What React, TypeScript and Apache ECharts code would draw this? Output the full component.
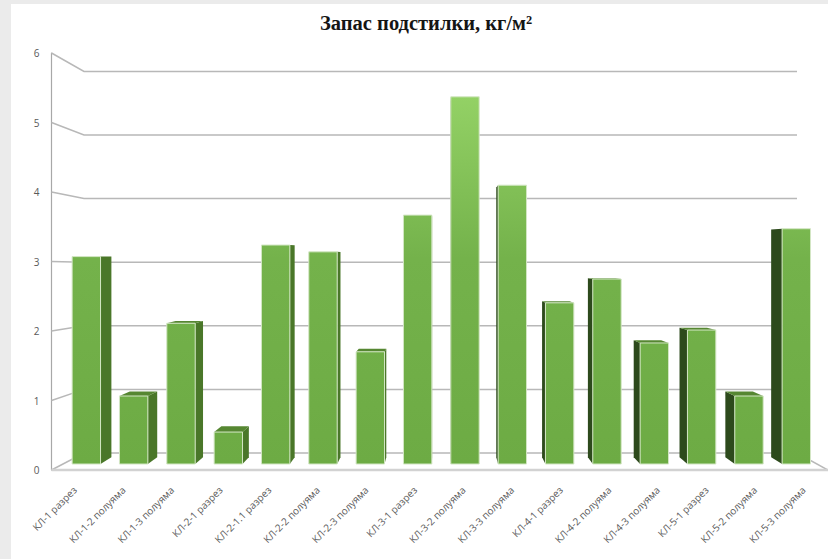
import React, { useEffect, useRef } from "react";
import * as echarts from "echarts";

const titleText = "Запас подстилки, кг/м²";
const categories = [
  "КЛ-1 разрез", "КЛ-1-2 полуяма", "КЛ-1-3 полуяма", "КЛ-2-1 разрез",
  "КЛ-2-1.1 разрез", "КЛ-2-2 полуяма", "КЛ-2-3 полуяма", "КЛ-3-1 разрез",
  "КЛ-3-2 полуяма", "КЛ-3-3 полуяма", "КЛ-4-1 разрез", "КЛ-4-2 полуяма",
  "КЛ-4-3 полуяма", "КЛ-5-1 разрез", "КЛ-5-2 полуяма", "КЛ-5-3 полуяма",
];
const stock = [3.05, 1.0, 2.07, 0.47, 3.22, 3.12, 1.65, 3.66, 5.4, 4.1, 2.37, 2.72, 1.78, 1.97, 1.0, 3.46];
const gridTicks = [0, 1, 2, 3, 4, 5, 6];

// Pseudo-3D box geometry
const VANISH = [440, 255];
const DEPTH = 0.032;
const BACK_LEFT = 84;
const BACK_RIGHT = 797;
const FRONT_RIGHT = 828;
const BACK_FLOOR = 453;
const BACK_RATIO = 63.6 / 69.5;
const BAR_RATIO = 68 / 69.5;
const BAR_LIFT = 6;

const recede = (p: number[]) => [
  p[0] + (VANISH[0] - p[0]) * DEPTH,
  p[1] + (VANISH[1] - p[1]) * DEPTH,
];

const faceFill = new echarts.graphic.LinearGradient(
  0, 97, 0, 464,
  [
    { offset: 0, color: "#93d165" },
    { offset: 0.44, color: "#74b24b" },
    { offset: 1, color: "#6dab44" },
  ],
  true
);

const renderWall = (params: any, api: any) => {
  const tick = api.value(1);
  const frontY = api.coord([0, tick])[1];
  const zeroY = api.coord([0, 0])[1];
  const backY = BACK_FLOOR - (zeroY - frontY) * BACK_RATIO;
  const lineStyle = { stroke: "#b8b8b8", lineWidth: 1.5, fill: "none" };
  const children: any[] = [
    {
      type: "polyline",
      shape: { points: [[51.5, frontY], [BACK_LEFT, backY], [BACK_RIGHT, backY]] },
      style: lineStyle,
    },
  ];
  if (tick === 0) {
    children.push(
      {
        type: "line",
        shape: { x1: BACK_RIGHT, y1: backY, x2: FRONT_RIGHT, y2: frontY },
        style: lineStyle,
      },
      {
        type: "line",
        shape: { x1: 51.5, y1: frontY, x2: FRONT_RIGHT, y2: frontY },
        style: { stroke: "#d2d2d2", lineWidth: 2.4 },
      }
    );
  }
  return { type: "group", children };
};

const renderBar = (params: any, api: any) => {
  const i = api.value(0);
  const [cx, valueY] = api.coord([i, api.value(1)]);
  const zeroY = api.coord([i, 0])[1];
  const half = api.size([1, 0])[0] * 0.3;
  const base = zeroY - BAR_LIFT;
  const top = base - (zeroY - valueY) * BAR_RATIO;
  const tl = [cx - half, top];
  const tr = [cx + half, top];
  const br = [cx + half, base];
  const bl = [cx - half, base];
  const sideOnRight = cx < VANISH[0];
  const sideA = sideOnRight ? tr : tl;
  const sideB = sideOnRight ? br : bl;
  const children: any[] = [
    {
      type: "polygon",
      shape: { points: [sideA, recede(sideA), recede(sideB), sideB] },
      style: { fill: sideOnRight ? "#4a7729" : "#2d4a1c" },
    },
  ];
  if (top > VANISH[1]) {
    children.push({
      type: "polygon",
      shape: { points: [tl, tr, recede(tr), recede(tl)] },
      style: { fill: "#568732" },
    });
  }
  children.push({
    type: "rect",
    shape: { x: cx - half, y: top, width: half * 2, height: base - top },
    style: { fill: faceFill, stroke: "#d3e6c4", lineWidth: 1 },
  });
  return { type: "group", children };
};

export default function App() {
  const ref = useRef<HTMLDivElement>(null);

  useEffect(() => {
    const chart = echarts.init(ref.current!, undefined, { renderer: "svg" });
    chart.setOption({
      animation: false,
      backgroundColor: "transparent",
      title: {
        text: titleText,
        left: 315,
        top: 7,
        textStyle: {
          fontFamily: "Liberation Serif",
          fontWeight: "bold",
          fontSize: 20.5,
          color: "#151515",
        },
      },
      graphic: [
        {
          type: "rect",
          z: -10,
          shape: { x: 11, y: 4, width: 817, height: 555 },
          style: { fill: "#ffffff" },
        },
      ],
      // Bars sit on the receded plane; the category names follow the wider front edge.
      grid: [
        { left: 62.67, top: 53, width: 757.3, height: 417 },
        { left: 50.6, top: 53, width: 781, height: 417 },
      ],
      xAxis: [
        {
          type: "category",
          data: categories,
          axisLine: { show: false },
          axisTick: { show: false },
          axisLabel: { show: false },
        },
        {
          type: "category",
          gridIndex: 1,
          data: categories,
          axisLine: { show: false },
          axisTick: { show: false },
          axisLabel: {
            interval: 0,
            rotate: 45,
            margin: 18,
            fontSize: 10,
            fontFamily: "Open Sans",
            color: "#595959",
          },
        },
      ],
      yAxis: [
        {
          type: "value",
          min: 0,
          max: 6,
          interval: 1,
          offset: 11.2,
          axisLine: { show: true, lineStyle: { color: "#a8a8a8", width: 1.2 } },
          axisTick: { show: false },
          splitLine: { show: false },
          axisLabel: {
            margin: 12,
            fontSize: 10,
            fontFamily: "Open Sans",
            color: "#595959",
          },
        },
        {
          type: "value",
          gridIndex: 1,
          min: 0,
          max: 6,
          interval: 1,
          show: false,
          splitLine: { show: false },
        },
      ],
      series: [
        {
          type: "custom",
          renderItem: renderWall,
          data: gridTicks.map((t) => [0, t]),
          encode: { x: 0, y: 1 },
          silent: true,
          z: 1,
        },
        {
          type: "custom",
          renderItem: renderBar,
          data: stock.map((v, i) => [i, v]),
          encode: { x: 0, y: 1 },
          silent: true,
          z: 2,
        },
      ],
    });
    return () => chart.dispose();
  }, []);

  return (
    <div
      style={{
        position: "absolute",
        left: 0,
        top: 0,
        width: 828,
        height: 559,
        background: "#ebebeb",
        overflow: "hidden",
      }}
    >
      <div ref={ref} style={{ width: 828, height: 559 }} />
    </div>
  );
}
